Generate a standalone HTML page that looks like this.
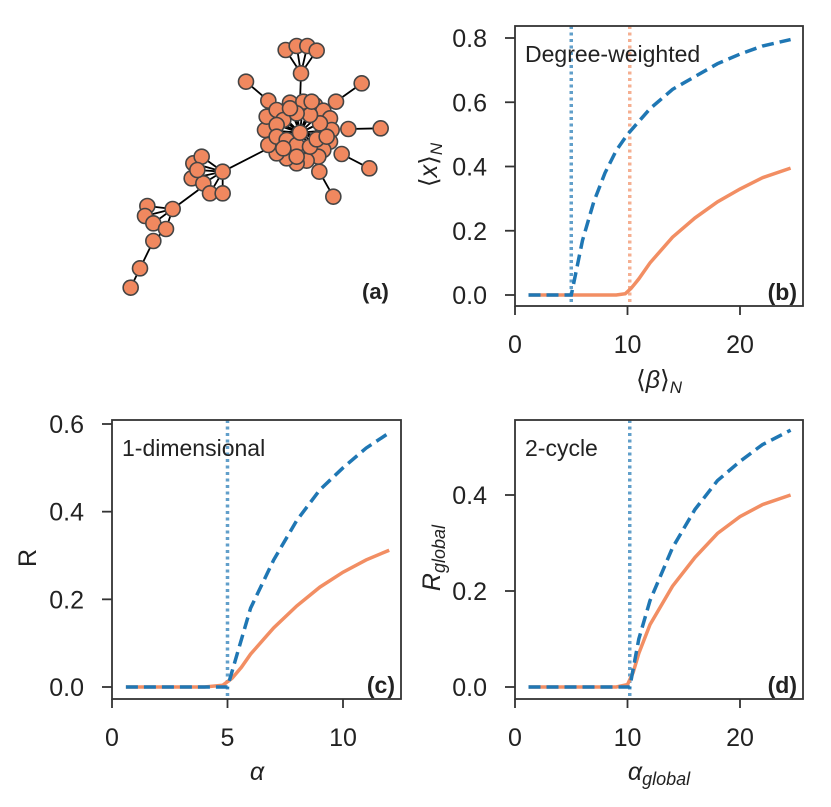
<!DOCTYPE html>
<html><head><meta charset="utf-8"><style>
html,body{margin:0;padding:0;background:#fff;}
svg text{font-family:"Liberation Sans",Arial,sans-serif;fill:#222;}
</style></head><body>
<svg id="fig" width="831" height="802" viewBox="0 0 831 802" xmlns="http://www.w3.org/2000/svg">
<g id="net"></g>
<text x="362" y="299" font-size="22" font-weight="bold">(a)</text>
</svg>
<script>
const NS="http://www.w3.org/2000/svg";
const svg=document.getElementById('fig');
function mk(tag,attrs,parent){const e=document.createElementNS(NS,tag);for(const k in attrs)e.setAttribute(k,attrs[k]);(parent||svg).appendChild(e);return e;}
const BLUE="#1f77b4",ORANGE="#f28e63";

// ---- Panel b data ----
const bX_blue=[1.2,2,3,4,5,6,7,8,9,10,12,14,16,18,20,22,24.5];
const bY_blue=[0,0,0,0,0,0.17,0.29,0.38,0.45,0.5,0.58,0.64,0.68,0.72,0.75,0.775,0.795];
const bX_orange=[1.2,3,5,7,9,9.8,10.3,11,12,14,16,18,20,22,24.5];
const bY_orange=[0,0,0,0,0,0.004,0.02,0.05,0.1,0.18,0.24,0.29,0.33,0.365,0.395];
const bXTicks=[0,10,20];
const bYTicks=["0.0","0.2","0.4","0.6","0.8"];
const bVlines=[5,10.2];
// ---- Panel c data ----
const cX_blue=[0.6,2,3,4,5,6,7,8,9,10,11,12];
const cY_blue=[0,0,0,0,0,0.18,0.29,0.38,0.45,0.5,0.545,0.58];
const cX_orange=[0.6,2,3,4,4.8,5.2,5.6,6,7,8,9,10,11,12];
const cY_orange=[0,0,0,0,0.004,0.02,0.045,0.075,0.135,0.185,0.228,0.262,0.29,0.312];
const cXTicks=[0,5,10];
const cYTicks=["0.0","0.2","0.4","0.6"];
const cVlines=[5];
// ---- Panel d data ----
const dX_blue=[1.2,3,5,7,9,10.2,11,12,14,16,18,20,22,24.5];
const dY_blue=[0,0,0,0,0,0,0.1,0.18,0.29,0.37,0.43,0.47,0.505,0.535];
const dX_orange=[1.2,3,5,7,9,10,10.5,11,12,14,16,18,20,22,24.5];
const dY_orange=[0,0,0,0,0,0.005,0.03,0.07,0.13,0.21,0.27,0.32,0.355,0.38,0.4];
const dXTicks=[0,10,20];
const dYTicks=["0.0","0.2","0.4"];
const dVlines=[10.2];

function panel(o){
  const g=mk('g',{});
  
  
  const sx=v=>o.L+(v-o.x0)/(o.x1-o.x0)*(o.R-o.L);
  const sy=v=>o.B-(v-o.y0)/(o.y1-o.y0)*(o.B-o.T);
  o.vl.forEach((v,i)=>{const l=mk('line',{x1:sx(v),x2:sx(v),y1:o.T,y2:o.Bs,stroke:o.vc[i],'stroke-width':3.5,'stroke-dasharray':'3,3.5',opacity:0.7},g);
    });
  const path=(xs,ys)=>xs.map((x,i)=>(i?'L':'M')+sx(x).toFixed(1)+','+sy(ys[i]).toFixed(1)).join('');
  const po=mk('path',{d:path(o.xo,o.yo),fill:'none',stroke:ORANGE,'stroke-width':3.5},g);
  
  const pb=mk('path',{d:path(o.xb,o.yb),fill:'none',stroke:BLUE,'stroke-width':3.5,'stroke-dasharray':'12,6'},g);
  
  const fr=mk('rect',{x:o.L,y:o.T,width:o.R-o.L,height:o.Bs-o.T,fill:'none',stroke:'#333','stroke-width':1.8},g);
  
  o.xt.forEach(v=>{mk('line',{x1:sx(v),x2:sx(v),y1:o.Bs,y2:o.Bs+9,stroke:'#333','stroke-width':1.8},g);
    const t=mk('text',{x:sx(v),y:o.Bs+47,'font-size':25,'text-anchor':'middle'},g);t.textContent=v;
    });
  o.yt.forEach(s=>{const v=parseFloat(s);mk('line',{x1:o.L,x2:o.L-10,y1:sy(v),y2:sy(v),stroke:'#333','stroke-width':1.8},g);
    const t=mk('text',{x:o.L-28,y:sy(v)+9,'font-size':25,'text-anchor':'end'},g);t.textContent=s;
    });
  const ti=mk('text',{x:o.L+10,y:o.T+36,'font-size':23},g);ti.textContent=o.title;
  
  const lb=mk('text',{x:o.R-6,y:o.Bs-6,'font-size':23,'font-weight':'bold','text-anchor':'end'},g);lb.textContent=o.label;
  
  return g;
}
panel({name:'panel-b',L:515,R:803,T:26,B:295,Bs:306,x0:0,x1:25.6,y0:0,y1:0.8*(295-26)/(295-38),
  xb:bX_blue,yb:bY_blue,xo:bX_orange,yo:bY_orange,xt:bXTicks,yt:bYTicks,vl:bVlines,vc:[BLUE,ORANGE],title:'Degree-weighted',label:'(b)'});
panel({name:'panel-c',L:112,R:401,T:420,B:687,Bs:699,x0:0,x1:(401-112)/((343-112)/10),y0:0,y1:0.6*(687-420)/(687-424),
  xb:cX_blue,yb:cY_blue,xo:cX_orange,yo:cY_orange,xt:cXTicks,yt:cYTicks,vl:cVlines,vc:[BLUE],title:'1-dimensional',label:'(c)'});
panel({name:'panel-d',L:515,R:803,T:420,B:687,Bs:699,x0:0,x1:25.6,y0:0,y1:0.4*(687-420)/(687-495),
  xb:dX_blue,yb:dY_blue,xo:dX_orange,yo:dY_orange,xt:dXTicks,yt:dYTicks,vl:dVlines,vc:[BLUE],title:'2-cycle',label:'(d)'});

function lab(x,y,html,rot,name){const t=mk('text',{x:x,y:y,'font-size':25,'text-anchor':'middle',transform:rot?`rotate(-90 ${x} ${y})`:''});t.innerHTML=html;
  }
lab(659,388,'⟨<tspan font-style="italic">β</tspan>⟩<tspan font-size="17" dy="5" font-style="italic">N</tspan>',false,'x-axis-title-b');
lab(437,165,'⟨<tspan font-style="italic">x</tspan>⟩<tspan font-size="17" dy="5" font-style="italic">N</tspan>',true,'y-axis-title-b');
lab(257,780,'<tspan font-style="italic">α</tspan>',false,'x-axis-title-c');
lab(36,558,'R',true,'y-axis-title-c');
lab(659,780,'<tspan font-style="italic">α<tspan font-size="18" dy="5">global</tspan></tspan>',false,'x-axis-title-d');
lab(440,558,'<tspan font-style="italic">R<tspan font-size="18" dy="5">global</tspan></tspan>',true,'y-axis-title-d');

// network
const net=document.getElementById('net');
const Z=(zx,zy)=>[110+zx/3,30+zy/3];
const hub=Z(570,308);
const ring=[[540,218],[580,215],[615,225],[640,242],[660,265],[665,300],[660,335],[640,360],[625,380],[590,392],[560,400],[530,385],[500,370],[475,345],[465,300],[470,260],[500,240],[520,270],[500,285],[500,320],[530,330],[560,345],[600,350],[620,328],[630,280],[600,255],[560,250],[540,235],[605,215],[650,320],[560,380],[520,355]].map(p=>Z(p[0],p[1]));
const edges=[];
ring.forEach(p=>edges.push([hub,p]));
const topC=Z(573,130),tops=[[527,60],[560,48],[592,48],[620,62]].map(p=>Z(p[0],p[1]));
edges.push([topC,Z(570,215)]);tops.forEach(p=>edges.push([topC,p]));
const leaves=[[[408,155],[475,212]],[[755,160],[678,215]],[[812,295],[715,297]],[[778,415],[695,372]],[[670,500],[628,425]]].map(a=>[Z(...a[0]),Z(...a[1])]);
leaves.forEach(a=>edges.push(a));
const g2c=Z(338,425),g2=[[250,400],[275,380],[245,445],[280,460],[300,490],[338,490],[262,420]].map(p=>Z(p[0],p[1]));
edges.push([g2c,Z(465,360)]);g2.forEach(p=>edges.push([g2c,p]));
const g3c=Z(188,537),g3=[[112,528],[105,558],[130,580],[168,597]].map(p=>Z(p[0],p[1]));
edges.push([g3c,Z(265,480)]);g3.forEach(p=>edges.push([g3c,p]));
const ch=[[130,633],[90,715],[62,773]].map(p=>Z(p[0],p[1]));
edges.push([Z(168,597),ch[0]],[ch[0],ch[1]],[ch[1],ch[2]]);
edges.forEach(e=>{const l=mk('line',{x1:e[0][0],y1:e[0][1],x2:e[1][0],y2:e[1][1],stroke:'#000','stroke-width':1.8},net);
  });
[...tops,topC,...leaves.flat(),...g2,g2c,...g3,g3c,...ch,...ring,hub].forEach(p=>{
  const c=mk('circle',{cx:p[0],cy:p[1],r:7.5,fill:'#f0885f',stroke:'#444','stroke-width':1.6},net);
  });
</script>
</body></html>
